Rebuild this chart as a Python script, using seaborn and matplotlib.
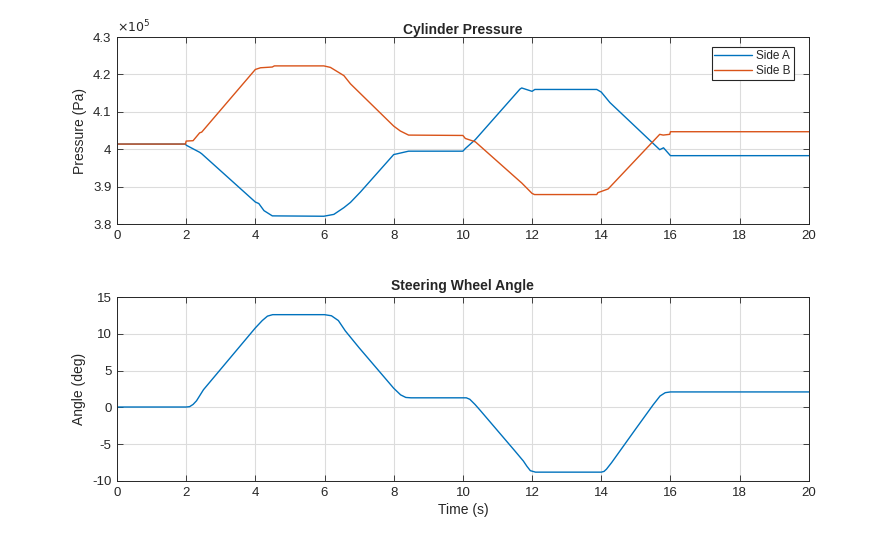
import numpy as np
import pandas as pd
import matplotlib
matplotlib.use("Agg")
import matplotlib.pyplot as plt
from matplotlib.ticker import FuncFormatter
import seaborn as sns

# Cylinder pressure (values in 1e5 Pa)
t_side_a = [0, 1.98, 2.0, 2.39, 2.45, 4.0, 4.1, 4.25, 4.49, 5.98, 6.27, 6.56, 6.75, 7.04,
            8.0, 8.1, 8.43, 10.0, 10.07, 10.36, 11.65, 11.7, 12.0, 12.08, 13.87, 14.0,
            14.25, 15.69, 15.8, 16.0, 20]
p_side_a = [4.014, 4.014, 4.011, 3.992, 3.988, 3.859, 3.855, 3.836, 3.822, 3.821, 3.826, 3.844, 3.858, 3.886,
            3.986, 3.988, 3.995, 3.995, 4.002, 4.026, 4.161, 4.164, 4.155, 4.160, 4.160, 4.153,
            4.125, 3.999, 4.004, 3.983, 3.983]

t_side_b = [0, 1.98, 2.0, 2.2, 2.39, 2.45, 4.0, 4.15, 4.49, 4.55, 5.98, 6.17, 6.56, 6.75,
            8.0, 8.19, 8.43, 10.0, 10.07, 10.36, 11.65, 11.7, 12.0, 12.07, 13.87, 13.9,
            14.2, 15.69, 15.79, 15.98, 16.0, 20]
p_side_b = [4.014, 4.014, 4.022, 4.023, 4.044, 4.046, 4.2135, 4.218, 4.220, 4.223, 4.223, 4.219, 4.197, 4.175,
            4.062, 4.049, 4.038, 4.037, 4.029, 4.020, 3.914, 3.910, 3.882, 3.879, 3.879, 3.884,
            3.894, 4.040, 4.038, 4.040, 4.047, 4.047]

# Steering wheel angle (deg)
t_angle = [0, 2.0, 2.1, 2.2, 2.3, 2.5, 3.0, 4.0, 4.2, 4.35, 4.5, 6.0, 6.2, 6.4, 6.6, 7.0,
           8.0, 8.2, 8.35, 8.5, 10.1, 10.2, 10.35, 10.5, 11.0, 11.5, 11.75, 11.85, 11.95, 12.1,
           14.0, 14.08, 14.15, 14.3, 15.0, 15.5, 15.7, 15.85, 16.0, 20]
angle = [0.05, 0.05, 0.1, 0.4, 0.9, 2.4, 5.2, 10.8, 11.8, 12.4, 12.6, 12.6, 12.45, 11.8, 10.4, 8.1,
         2.6, 1.7, 1.35, 1.3, 1.3, 1.1, 0.4, -0.4, -3.15, -5.9, -7.3, -8.0, -8.6, -8.8,
         -8.8, -8.7, -8.4, -7.5, -2.9, 0.35, 1.55, 2.0, 2.1, 2.1]

blue = "#0072BD"
orange = "#D95319"
ink = "#262626"

sns.set_theme(style="ticks")
plt.rcParams["font.family"] = ["Liberation Sans", "DejaVu Sans"]
plt.rcParams["axes.unicode_minus"] = False  # matlab-style hyphen minus

pressure_df = pd.concat([
    pd.DataFrame({"Time": t_side_a, "Pressure": np.array(p_side_a) * 1e5, "Side": "Side A"}),
    pd.DataFrame({"Time": t_side_b, "Pressure": np.array(p_side_b) * 1e5, "Side": "Side B"}),
])
angle_df = pd.DataFrame({"Time": t_angle, "Angle": angle})

fig = plt.figure(figsize=(8.95, 5.4), dpi=100)
ax1 = fig.add_axes([0.1307, 0.585, 0.773, 0.3463])
ax2 = fig.add_axes([0.1307, 0.1093, 0.773, 0.3407])

sns.lineplot(data=pressure_df, x="Time", y="Pressure", hue="Side", palette=[blue, orange],
             estimator=None, sort=False, linewidth=1.0, ax=ax1)
sns.lineplot(data=angle_df, x="Time", y="Angle", color=blue, estimator=None, sort=False,
             linewidth=1.0, ax=ax2)

ax1.set_xlim(0, 20)
ax1.set_ylim(3.8e5, 4.3e5)
ax1.set_yticks(np.arange(3.8e5, 4.31e5, 0.1e5))
ax1.yaxis.set_major_formatter(FuncFormatter(lambda v, p: f"{v / 1e5:g}"))
ax1.set_title("Cylinder Pressure", fontsize=10, fontweight="bold", color=ink, pad=2)
ax1.set_xlabel("")
ax1.set_ylabel("Pressure (Pa)", fontsize=10, color=ink)
ax1.text(0, 1.012, r"$\times10^{5}$", transform=ax1.transAxes, fontsize=9, color=ink,
         ha="left", va="bottom")
leg = ax1.legend(loc="upper right", bbox_to_anchor=(1 - 15 / 692, 1 - 10 / 187),
                 borderaxespad=0, fontsize=8.5, frameon=True, fancybox=False,
                 edgecolor=ink, handlelength=3.2, handletextpad=0.35, borderpad=0.25,
                 labelspacing=0.25, framealpha=1)
leg.get_frame().set_linewidth(0.8)

ax2.set_xlim(0, 20)
ax2.set_ylim(-10, 15)
ax2.set_yticks([-10, -5, 0, 5, 10, 15])
ax2.set_title("Steering Wheel Angle", fontsize=10, fontweight="bold", color=ink, pad=5)
ax2.set_xlabel("Time (s)", fontsize=10, color=ink, labelpad=3)
ax2.set_ylabel("Angle (deg)", fontsize=10, color=ink)

for ax in (ax1, ax2):
    ax.set_xticks(range(0, 21, 2))
    ax.grid(True, color="#dcdcdc", linewidth=0.8)
    ax.set_axisbelow(True)
    ax.tick_params(direction="in", top=True, right=True, length=4.5, width=0.6,
                   labelsize=9.5, colors=ink, pad=4)
    for s in ax.spines.values():
        s.set_visible(True)
        s.set_color(ink)
        s.set_linewidth(0.7)

fig.savefig("out.png", dpi=100)
